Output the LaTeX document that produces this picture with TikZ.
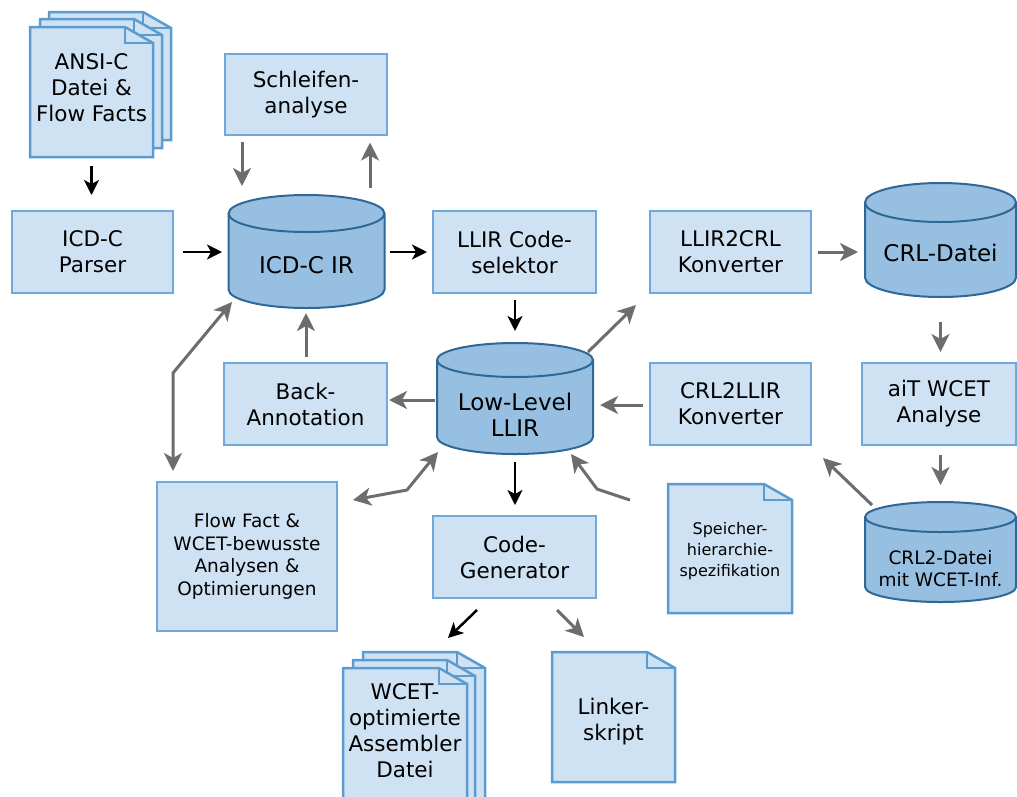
\documentclass[tikz,border=0pt]{standalone}
\usepackage{fontspec}
\setmainfont{DejaVu Sans}
\usetikzlibrary{arrows.meta,calc}

\definecolor{boxfill}{HTML}{CFE2F3}
\definecolor{boxline}{HTML}{6FA8DC}
\definecolor{docfill}{HTML}{CFE2F3}
\definecolor{docline}{HTML}{5B9BD0}
\definecolor{cylfill}{HTML}{97BFE1}
\definecolor{cylline}{HTML}{2F6896}
\definecolor{arrowgray}{HTML}{6D6D6D}

\tikzset{
  mainfont/.style={font=\fontsize{21.5}{26}\selectfont},
  procbox/.style={draw=boxline, fill=boxfill, line width=2pt, inner sep=0pt, align=center, mainfont},
  doctext/.style={inner sep=0pt, align=center, mainfont},
  dbtext/.style={inner sep=0pt, align=center, font=\fontsize{23}{26.5}\selectfont},
  pagestyle/.style={draw=docline, fill=docfill, line width=2.5pt, line join=miter},
  dbstyle/.style={draw=cylline, fill=cylfill, line width=2pt},
  graytip/.tip={Stealth[length=18pt,width=18pt,inset=5pt]},
  grayarrow/.style={draw=arrowgray, line width=3pt, -graytip},
  grayboth/.style={draw=arrowgray, line width=3pt, graytip-graytip},
  blackarrow/.style={draw=black, line width=2.5pt, -{Stealth[length=15pt,width=15pt,inset=4pt]}},
}

% a sheet of paper with a folded corner: left, top, right, bottom
\newcommand{\docpage}[4]{%
  \filldraw[pagestyle] (#1,#2) -- (#3-28,#2) -- (#3,#2+16) -- (#3,#4) -- (#1,#4) -- cycle;
  \draw[pagestyle, fill=none] (#3-28,#2) -- (#3-28,#2+16) -- (#3,#2+16);
}

% a database cylinder: left, top, right, bottom, half height of the ellipse
\newcommand{\dbshape}[5]{%
  \filldraw[dbstyle] (#1,#2+#5) -- (#1,#4-#5)
    arc[start angle=180,end angle=360,x radius={(#3-#1)*0.5pt},y radius={#5pt}]
    -- (#3,#2+#5)
    arc[start angle=0,end angle=180,x radius={(#3-#1)*0.5pt},y radius={#5pt}] -- cycle;
  \draw[dbstyle, fill=none] (#1,#2+#5)
    arc[start angle=180,end angle=360,x radius={(#3-#1)*0.5pt},y radius={#5pt}];
}

\begin{document}
\begin{tikzpicture}[x=1pt,y=-1pt]
\clip (0,0) rectangle (1017,796);

% ---------- documents ----------
\docpage{49}{12}{171}{140}
\docpage{40}{19}{162}{148}
\docpage{30}{27}{153}{157}
\node[doctext, minimum width=123pt] (ansi) at (91.5,88) {ANSI-C\\Datei \&\\Flow Facts};

\docpage{668}{484}{792}{613}
\node[doctext, minimum width=124pt, font=\fontsize{16}{21}\selectfont] (speicher) at (730,551) {Speicher-\\hierarchie-\\spezifikation};

\docpage{363}{652}{485}{812}
\docpage{353}{660}{475}{812}
\docpage{343}{668}{467}{812}
\node[doctext, minimum width=124pt] (wcet) at (405,731) {WCET-\\optimierte\\Assembler\\Datei};

\docpage{552}{652}{675}{782}
\node[doctext, minimum width=123pt] (linker) at (613.5,721.5) {Linker-\\skript};

% ---------- databases ----------
\dbshape{228.5}{195}{384.5}{308}{18.5}
\node[dbtext] (icdir) at (306.5,265) {ICD-C IR};

\dbshape{437}{343}{593}{454}{17}
\node[dbtext] (llir) at (515,415) {Low-Level\\LLIR};

\dbshape{865}{183}{1016}{297}{19.5}
\node[dbtext] (crl) at (940.5,253) {CRL-Datei};

\dbshape{865}{502}{1016}{602}{15}
\node[dbtext, font=\fontsize{18.5}{22}\selectfont] (crl2) at (940.5,569) {CRL2-Datei\\mit WCET-Inf.};

% ---------- process boxes ----------
\node[procbox, minimum width=162pt, minimum height=81pt] (schl) at (306,94.5) {Schleifen-\\analyse};
\node[procbox, minimum width=161pt, minimum height=82pt] (parser) at (92.5,252) {ICD-C\\Parser};
\node[procbox, minimum width=163pt, minimum height=82pt] (codesel) at (514.5,252) {LLIR Code-\\selektor};
\node[procbox, minimum width=161pt, minimum height=82pt] (l2c) at (730.5,252) {LLIR2CRL\\Konverter};
\node[procbox, minimum width=163pt, minimum height=82pt] (back) at (305.5,404) {Back-\\Annotation};
\node[procbox, minimum width=161pt, minimum height=82pt] (c2l) at (730.5,404) {CRL2LLIR\\Konverter};
\node[procbox, minimum width=154pt, minimum height=82pt] (ait) at (939,404) {aiT WCET\\Analyse};
\node[procbox, minimum width=180pt, minimum height=149pt, font=\fontsize{18.5}{22.5}\selectfont] (flow) at (247,556.5) {Flow Fact \&\\WCET-bewusste\\Analysen \&\\Optimierungen};
\node[procbox, minimum width=163pt, minimum height=82pt] (codegen) at (514.5,557) {Code-\\Generator};

% ---------- main flow (black) ----------
\draw[blackarrow] ($(ansi)+(0,78)$) -- ($(parser)+(-1,-57)$);
\draw[blackarrow] ($(parser)+(90.5,0)$) -- ($(icdir)+(-84.5,-13)$);
\draw[blackarrow] ($(icdir)+(83.5,-13)$) -- ($(codesel)+(-87.5,0)$);
\draw[blackarrow] ($(codesel)+(0.5,48)$) -- ($(llir)+(0,-84)$);
\draw[blackarrow] ($(llir)+(0,47)$) -- ($(codegen)+(0.5,-52)$);
\draw[blackarrow] ($(codegen)+(-37.5,53)$) -- ($(wcet)+(43,-93)$);

% ---------- analysis flow (gray) ----------
\draw[grayarrow] ($(schl)+(-64,47)$) -- ($(icdir)+(-64.5,-79)$);
\draw[grayarrow] ($(icdir)+(63.5,-77)$) -- ($(schl)+(64,48)$);
\draw[grayarrow] ($(back)+(0.5,-47)$) -- ($(icdir)+(-0.5,48)$);
\draw[grayarrow] ($(llir)+(-80,-15)$) -- ($(back)+(83.5,-4)$);
\draw[grayarrow] ($(llir)+(73,-63)$) -- ($(l2c)+(-94.5,53)$);
\draw[grayarrow] ($(c2l)+(-87.5,1)$) -- ($(llir)+(85,-10)$);
\draw[grayarrow] ($(l2c)+(87.5,0)$) -- ($(crl)+(-82.5,-1)$);
\draw[grayarrow] ($(crl)+(0,69)$) -- ($(ait)+(1.5,-52)$);
\draw[grayarrow] ($(ait)+(1.5,51)$) -- ($(crl2)+(0,-84)$);
\draw[grayarrow] ($(crl2)+(-68.5,-64)$) -- ($(c2l)+(92.5,54)$);

\coordinate (specbend) at (597,489);
\draw[grayarrow] ($(speicher)+(-100,-51)$) -- (specbend) -- ($(llir)+(56,39)$);

\coordinate (irbend) at (173,373);
\draw[grayboth] ($(icdir)+(-74.5,37)$) -- (irbend) -- ($(flow)+(-74,-85.5)$);

\coordinate (llirbend) at (407,490);
\draw[grayboth] ($(llir)+(-77,37)$) -- (llirbend) -- ($(flow)+(106,-56.5)$);

\draw[grayarrow] ($(codegen)+(42.5,53)$) -- ($(linker)+(-29.5,-84.5)$);
\end{tikzpicture}
\end{document}
